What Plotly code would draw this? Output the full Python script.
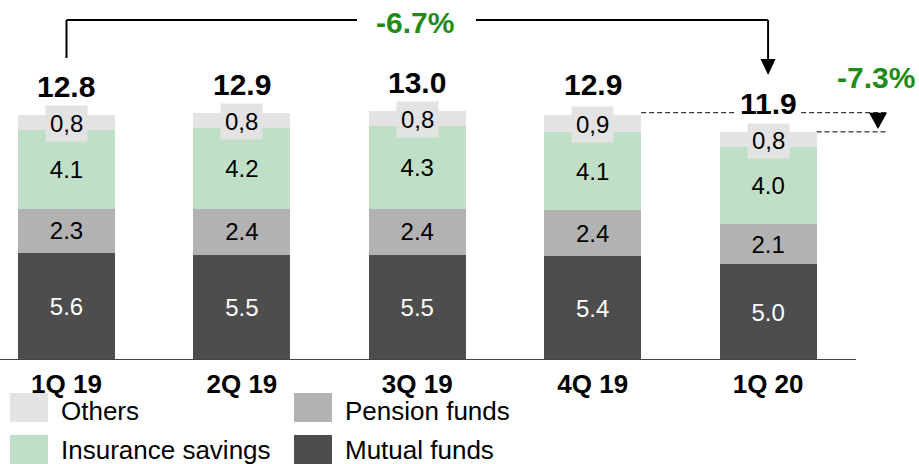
import plotly.graph_objects as go

# ---------------- data ----------------
categories = ["1Q 19", "2Q 19", "3Q 19", "4Q 19", "1Q 20"]
mutual_funds = [5.6, 5.5, 5.5, 5.4, 5.0]
pension_funds = [2.3, 2.4, 2.4, 2.4, 2.1]
insurance_savings = [4.1, 4.2, 4.3, 4.1, 4.0]
others = [0.8, 0.8, 0.8, 0.9, 0.8]
totals = [12.8, 12.9, 13.0, 12.9, 11.9]
change_total = "-6.7%"
change_last = "-7.3%"

# ---------------- geometry helpers ----------------
W, H = 919, 464
PLOT_BOTTOM = 360          # pixel row of the baseline
PX = 19.17                 # pixels per unit on y
XPX = 175.4                # pixels per category on x
X0 = -0.379                # data x at pixel 0
YMAX = PLOT_BOTTOM / PX
XMAX = X0 + W / XPX


def xd(p):
    return X0 + p / XPX


def yd(p):
    return (PLOT_BOTTOM - p) / PX


def pxp(p):
    return p / W


def pyp(p):
    return (PLOT_BOTTOM - p) / PLOT_BOTTOM


FONT = "Liberation Sans, Arial, sans-serif"
C_MUTUAL = "#4d4d4d"
C_PENSION = "#b2b2b2"
C_INS = "#bfe0c6"
C_OTH = "#e3e3e3"
GREEN = "#1f8c18"
BAR_W = 0.553

x = list(range(len(categories)))

fig = go.Figure()


def seg(vals, color, name, tcolor, text=True):
    fig.add_trace(go.Bar(
        x=x, y=vals, name=name, width=BAR_W,
        marker=dict(color=color, line=dict(width=0)),
        text=[f"{v:.1f}" for v in vals] if text else None,
        textposition="inside" if text else "none",
        insidetextanchor="middle", textangle=0,
        constraintext="none",
        textfont=dict(family=FONT, size=24, color=tcolor),
        showlegend=False, hoverinfo="skip",
    ))


seg(mutual_funds, C_MUTUAL, "Mutual funds", "white")
seg(pension_funds, C_PENSION, "Pension funds", "black")
seg(insurance_savings, C_INS, "Insurance savings", "black")
seg(others, C_OTH, "Others", "black", text=False)

annotations = []
shapes = []

# others labels with grey box
for i, v in enumerate(others):
    base = mutual_funds[i] + pension_funds[i] + insurance_savings[i]
    annotations.append(dict(
        x=i, y=base + v / 2, xref="x", yref="y", yshift=-1,
        text=f"{v:.1f}".replace(".", ","), showarrow=False,
        font=dict(family=FONT, size=24, color="black"),
        bgcolor=C_OTH, borderpad=4, xanchor="center", yanchor="middle",
    ))

# totals
for i, t in enumerate(totals):
    annotations.append(dict(
        x=i, y=t, xref="x", yref="y", yshift=8,
        text=f"<b>{t:.1f}</b>", showarrow=False,
        font=dict(family=FONT, size=30, color="black"),
        bgcolor="white" if i == len(totals) - 1 else None,
        borderpad=3, xanchor="center", yanchor="bottom",
    ))

# baseline
shapes.append(dict(type="line", xref="x", yref="y", x0=X0, x1=xd(856), y0=0, y1=0,
                   line=dict(color="#444444", width=2), layer="above"))

# bracket (total change)
lw = dict(color="black", width=2)
y_top = yd(20)
shapes.append(dict(type="line", xref="x", yref="y", x0=0, x1=0, y0=yd(58), y1=y_top, line=lw))
shapes.append(dict(type="line", xref="x", yref="y", x0=0, x1=xd(357), y0=y_top, y1=y_top, line=lw))
shapes.append(dict(type="line", xref="x", yref="y", x0=xd(476), x1=4, y0=y_top, y1=y_top, line=lw))
shapes.append(dict(type="line", xref="x", yref="y", x0=4, x1=4, y0=y_top, y1=yd(60), line=lw))
hw = 7.5 / XPX
shapes.append(dict(type="path", xref="x", yref="y",
                   path=f"M {4 - hw},{yd(59)} L {4 + hw},{yd(59)} L 4,{yd(75)} Z",
                   fillcolor="black", line=dict(width=0)))
annotations.append(dict(x=xd(415), y=yd(22), xref="x", yref="y", text=f"<b>{change_total}</b>",
                        showarrow=False, font=dict(family=FONT, size=30, color=GREEN),
                        xanchor="center", yanchor="middle"))

# dashed comparison last quarter
dl = dict(color="black", width=1, dash="5px,3px")
shapes.append(dict(type="line", xref="x", yref="y", x0=3 + BAR_W / 2, x1=xd(887),
                   y0=totals[3], y1=totals[3], line=dl, layer="below"))
shapes.append(dict(type="line", xref="x", yref="y", x0=4 + BAR_W / 2, x1=xd(887),
                   y0=totals[4], y1=totals[4], line=dl, layer="below"))
hw2 = 9 / XPX
shapes.append(dict(type="path", xref="x", yref="y",
                   path=f"M {xd(878) - hw2},{totals[3]} L {xd(878) + hw2},{totals[3]} L {xd(878)},{yd(129)} Z",
                   fillcolor="black", line=dict(width=0)))
annotations.append(dict(x=xd(876), y=yd(77), xref="x", yref="y", text=f"<b>{change_last}</b>",
                        showarrow=False, font=dict(family=FONT, size=30, color=GREEN),
                        xanchor="center", yanchor="middle"))

# manual legend
legend_items = [
    ("Others", C_OTH, 10, 393, 59, 411),
    ("Pension funds", C_PENSION, 294, 393, 343, 411),
    ("Insurance savings", C_INS, 10, 435, 59, 450),
    ("Mutual funds", C_MUTUAL, 294, 435, 343, 450),
]
for name, col, sx, sy, tx, ty in legend_items:
    shapes.append(dict(type="rect", xref="paper", yref="paper",
                       x0=pxp(sx), x1=pxp(sx + 38), y0=pyp(sy), y1=pyp(sy + 29),
                       fillcolor=col, line=dict(width=0)))
    annotations.append(dict(x=pxp(tx), y=pyp(ty), xref="paper", yref="paper", text=name,
                            showarrow=False, font=dict(family=FONT, size=26, color="black"),
                            xanchor="left", yanchor="middle"))

fig.update_layout(
    barmode="stack",
    width=W, height=H,
    margin=dict(l=0, r=0, t=0, b=H - PLOT_BOTTOM, pad=0),
    plot_bgcolor="white", paper_bgcolor="white",
    xaxis=dict(range=[X0, XMAX], tickvals=x,
               ticktext=[f"<b>{c}</b>" for c in categories],
               tickfont=dict(family=FONT, size=26, color="black"),
               showgrid=False, zeroline=False, showline=False, ticks="",
               ticklabelstandoff=6, fixedrange=True),
    yaxis=dict(range=[0, YMAX], visible=False, fixedrange=True),
    shapes=shapes, annotations=annotations,
    showlegend=False,
)

fig.write_html("out.html", config={"displayModeBar": False},
               post_script="document.body.style.margin='0px';document.body.style.overflow='hidden';")
